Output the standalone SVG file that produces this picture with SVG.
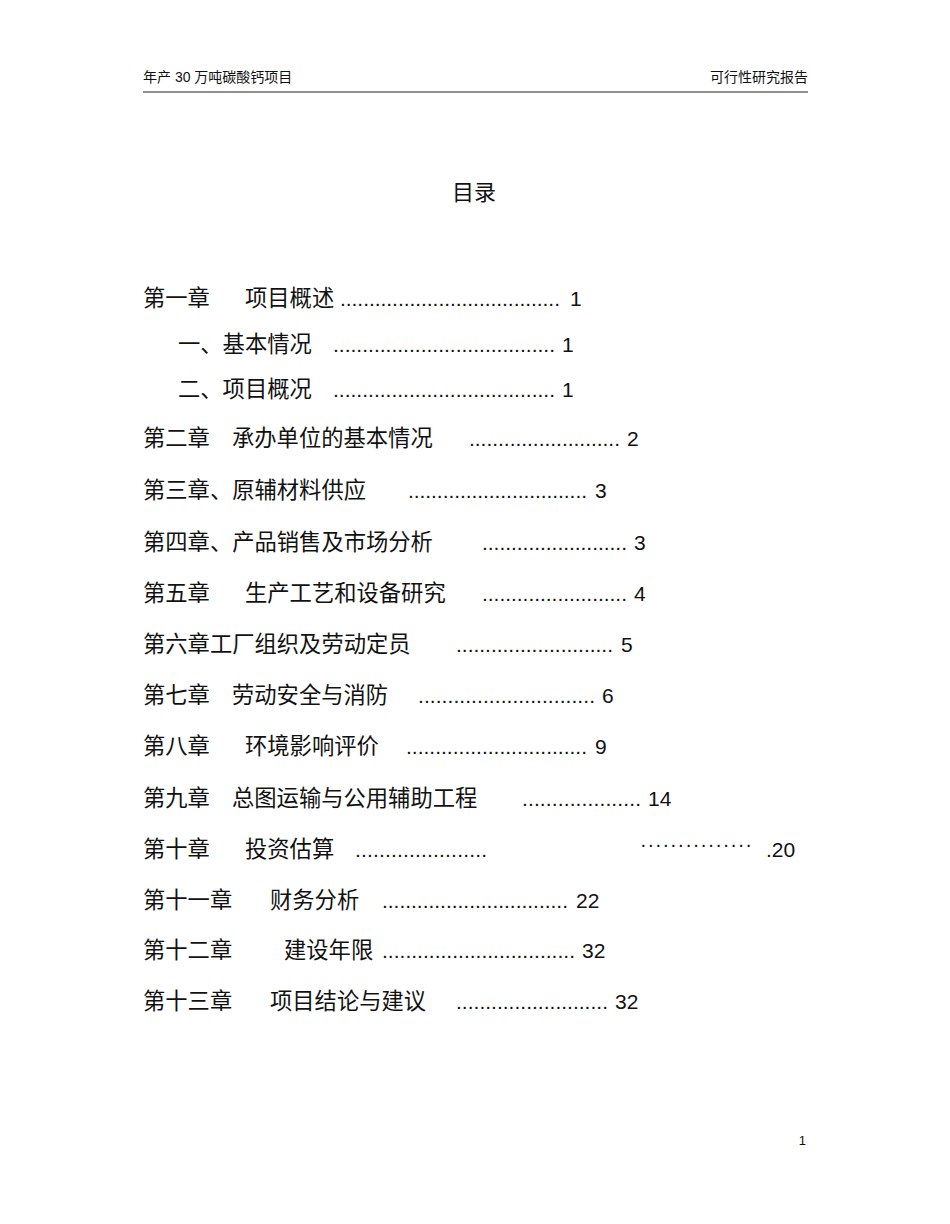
<svg xmlns="http://www.w3.org/2000/svg" width="950" height="1224" viewBox="0 0 950 1224">
<style>
text{font-family:"Liberation Sans","Noto Sans CJK SC",sans-serif;fill:#111}
.t{font-size:21px}
.c{font-size:22.3px}
.h{font-size:14px}
</style>
<rect width="950" height="1224" fill="#fff"/>
<text class="h" x="143" y="82">年产 30 万吨碳酸钙项目</text>
<text class="h" x="808" y="82" text-anchor="end">可行性研究报告</text>
<line x1="143" y1="92" x2="808" y2="92" stroke="#222" stroke-width="1.2"/>
<text x="474" y="200" font-size="22" text-anchor="middle">目录</text>
<g class="t">
<text class="c" x="143" y="306">第一章</text><text class="c" x="245" y="306">项目概述</text><text x="340" y="306" textLength="220" lengthAdjust="spacing">......................................</text><text x="570" y="306">1</text>
<text class="c" x="178" y="352">一、基本情况</text><text x="333" y="352" textLength="222" lengthAdjust="spacing">......................................</text><text x="562" y="352">1</text>
<text class="c" x="178" y="397">二、项目概况</text><text x="333" y="397" textLength="222" lengthAdjust="spacing">......................................</text><text x="562" y="397">1</text>
<text class="c" x="143" y="446">第二章</text><text class="c" x="232" y="446">承办单位的基本情况</text><text x="469" y="446" textLength="151" lengthAdjust="spacing">..........................</text><text x="627" y="446">2</text>
<text class="c" x="143" y="498">第三章、原辅材料供应</text><text x="408" y="498" textLength="179" lengthAdjust="spacing">...............................</text><text x="595" y="498">3</text>
<text class="c" x="143" y="550">第四章、产品销售及市场分析</text><text x="482" y="550" textLength="145" lengthAdjust="spacing">.........................</text><text x="634" y="550">3</text>
<text class="c" x="143" y="601">第五章</text><text class="c" x="245" y="601">生产工艺和设备研究</text><text x="482" y="601" textLength="145" lengthAdjust="spacing">.........................</text><text x="634" y="601">4</text>
<text class="c" x="143" y="652">第六章工厂组织及劳动定员</text><text x="456" y="652" textLength="157" lengthAdjust="spacing">...........................</text><text x="621" y="652">5</text>
<text class="c" x="143" y="703">第七章</text><text class="c" x="232" y="703">劳动安全与消防</text><text x="418" y="703" textLength="177" lengthAdjust="spacing">..............................</text><text x="602" y="703">6</text>
<text class="c" x="143" y="754">第八章</text><text class="c" x="245" y="754">环境影响评价</text><text x="406" y="754" textLength="181" lengthAdjust="spacing">...............................</text><text x="595" y="754">9</text>
<text class="c" x="143" y="806">第九章</text><text class="c" x="232" y="806">总图运输与公用辅助工程</text><text x="522" y="806" textLength="119" lengthAdjust="spacing">....................</text><text x="648" y="806">14</text>
<text class="c" x="143" y="857">第十章</text><text class="c" x="245" y="857">投资估算</text><text x="355" y="857" textLength="132" lengthAdjust="spacing">......................</text><text x="640" y="851" font-size="20" textLength="112" lengthAdjust="spacing">···············</text><text x="766" y="857">.20</text>
<text class="c" x="143" y="908">第十一章</text><text class="c" x="270" y="908">财务分析</text><text x="382" y="908" textLength="186" lengthAdjust="spacing">................................</text><text x="576" y="908">22</text>
<text class="c" x="143" y="958">第十二章</text><text class="c" x="284" y="958">建设年限</text><text x="382" y="958" textLength="193" lengthAdjust="spacing">.................................</text><text x="582" y="958">32</text>
<text class="c" x="143" y="1009">第十三章</text><text class="c" x="270" y="1009">项目结论与建议</text><text x="456" y="1009" textLength="152" lengthAdjust="spacing">..........................</text><text x="615" y="1009">32</text>
</g>
<text x="806" y="1145" font-size="13" text-anchor="end">1</text>
</svg>
